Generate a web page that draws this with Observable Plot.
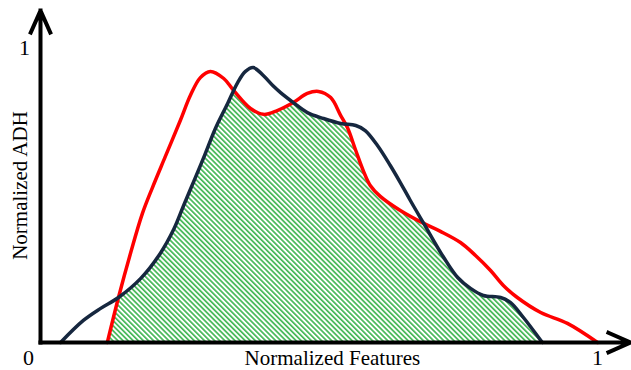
<!DOCTYPE html>
<html><head><meta charset="utf-8">
<script src="https://cdn.jsdelivr.net/npm/d3@7"></script>
<script src="https://cdn.jsdelivr.net/npm/@observablehq/plot@0.6"></script>
<style>body{margin:0;background:#fff}</style>
</head><body><div id="chart"></div>
<script>
// Red curve
const redX = [0.120, 0.140, 0.162, 0.183, 0.201, 0.224, 0.251, 0.269, 0.287, 0.305, 0.329, 0.347, 0.377, 0.400, 0.425, 0.454, 0.479, 0.499, 0.521, 0.539, 0.551, 0.566, 0.580, 0.592, 0.610, 0.646, 0.688, 0.718, 0.754, 0.781, 0.808, 0.831, 0.856, 0.898, 0.946, 1.0];
const redY = [0, 0.153, 0.306, 0.439, 0.527, 0.632, 0.755, 0.840, 0.901, 0.922, 0.898, 0.857, 0.796, 0.776, 0.789, 0.816, 0.847, 0.854, 0.833, 0.772, 0.731, 0.653, 0.582, 0.534, 0.497, 0.449, 0.405, 0.378, 0.340, 0.296, 0.245, 0.194, 0.153, 0.102, 0.065, 0];
// Navy curve
const navyX = [0.036, 0.077, 0.108, 0.140, 0.180, 0.215, 0.239, 0.257, 0.278, 0.296, 0.314, 0.336, 0.354, 0.368, 0.382, 0.400, 0.417, 0.431, 0.454, 0.479, 0.508, 0.539, 0.566, 0.583, 0.605, 0.628, 0.646, 0.664, 0.688, 0.724, 0.749, 0.772, 0.795, 0.826, 0.844, 0.867, 0.901];
const navyY = [0, 0.075, 0.116, 0.153, 0.218, 0.303, 0.384, 0.466, 0.561, 0.643, 0.728, 0.813, 0.884, 0.922, 0.935, 0.908, 0.874, 0.850, 0.816, 0.782, 0.762, 0.745, 0.738, 0.721, 0.670, 0.602, 0.544, 0.483, 0.405, 0.289, 0.221, 0.184, 0.160, 0.153, 0.136, 0.085, 0];
// Axis extents (arrow tips) and labels
const xAxisEnd = 1.059;
const yAxisEnd = 1.129;
const originLabel = "0";
const xTickLabel = "1";
const yTickLabel = "1";
const xTitle = "Normalized Features";
const yTitle = "Normalized ADH";

const red = redX.map((x, i) => ({x, y: redY[i]}));
const navy = navyX.map((x, i) => ({x, y: navyY[i]}));
const axes = [
  {x1: 0, y1: 0, x2: 0, y2: yAxisEnd},
  {x1: 0, y1: 0, x2: xAxisEnd, y2: 0}
];
const serif = "Liberation Serif, Times New Roman, serif";

const plot = Plot.plot({
  width: 631, height: 370,
  marginLeft: 40, marginRight: 34, marginTop: 48, marginBottom: 28,
  x: {domain: [0, 1], axis: null},
  y: {domain: [0, 1], axis: null},
  style: {background: "white", fontFamily: serif, color: "black"},
  marks: [
    Plot.areaY(red, {x: "x", y: "y", curve: "catmull-rom", fill: "url(#hatch)"}),
    Plot.areaY(navy, {x: "x", y: "y", curve: "catmull-rom", fill: "black"}),
    Plot.line(red, {x: "x", y: "y", curve: "catmull-rom", stroke: "#ff0000", strokeWidth: 3.5}),
    Plot.line(navy, {x: "x", y: "y", curve: "catmull-rom", stroke: "#16273f", strokeWidth: 3.5}),
    Plot.arrow(axes, {x1: "x1", y1: "y1", x2: "x2", y2: "y2", stroke: "black", strokeWidth: 4, headLength: 9, headAngle: 48, strokeLinecap: "square", strokeLinejoin: "miter"}),
    Plot.text([originLabel], {x: 0, y: 0, text: d => d, dx: -12, dy: 15, fontSize: 22, fontFamily: serif}),
    Plot.text([xTickLabel], {x: 1, y: 0, text: d => d, dy: 15, fontSize: 22, fontFamily: serif}),
    Plot.text([yTickLabel], {x: 0, y: 1, text: d => d, dx: -16, dy: -1, fontSize: 22, fontFamily: serif}),
    Plot.text([xTitle], {x: 0.524, y: 0, text: d => d, dy: 16, fontSize: 21, fontFamily: serif}),
    Plot.text([yTitle], {x: 0, y: 0.534, text: d => d, dx: -20, rotate: -90, fontSize: 21, fontFamily: serif})
  ]
});

const ns = "http://www.w3.org/2000/svg";
const defs = document.createElementNS(ns, "defs");
defs.innerHTML = `<pattern id="hatch" patternUnits="userSpaceOnUse" width="3.6" height="3.6" patternTransform="rotate(-45)"><rect width="3.6" height="3.6" fill="white"/><rect width="1.7" height="3.6" fill="#45b857"/></pattern><clipPath id="navyClip"></clipPath>`;
plot.insertBefore(defs, plot.firstChild);
const areaGroups = plot.querySelectorAll('g[aria-label="area"]');
const hatchG = areaGroups[0];
const clipG = areaGroups[1];
const clipEl = defs.querySelector("#navyClip");
if (clipG) {
  clipG.querySelectorAll("path").forEach(p => clipEl.appendChild(p));
  clipG.remove();
  hatchG.setAttribute("clip-path", "url(#navyClip)");
}

document.getElementById("chart").appendChild(plot);
</script>
</body></html>
